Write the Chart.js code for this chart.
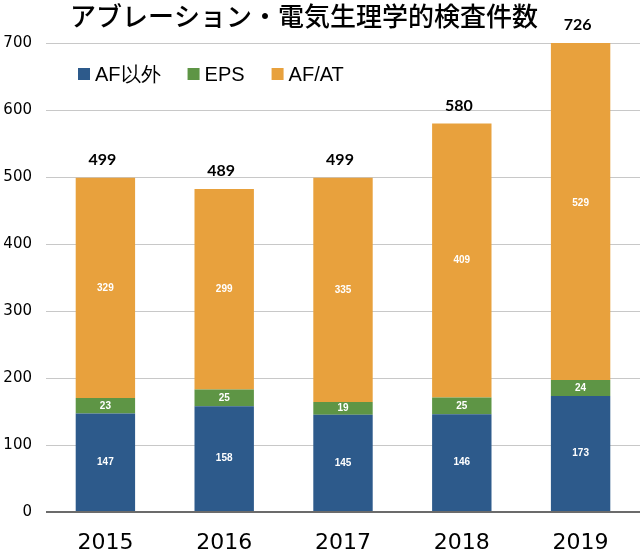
<!DOCTYPE html>
<html>
<head>
<meta charset="utf-8">
<script src="https://cdn.jsdelivr.net/npm/chart.js@4"></script>
<style>
  html, body { margin: 0; padding: 0; background: #fff; }
  #wrap { width: 640px; height: 549px; }
</style>
</head>
<body>
<div id="wrap"><canvas id="kensaChart" width="640" height="549"></canvas></div>
<script>
// ---- data ----
const years = ["2015", "2016", "2017", "2018", "2019"];
const afIgai = [147, 158, 145, 146, 173];
const eps = [23, 25, 19, 25, 24];
const afAt = [329, 299, 335, 409, 529];
const totals = [499, 489, 499, 580, 726];
const yTicks = [0, 100, 200, 300, 400, 500, 600, 700];

const title = "アブレーション・電気生理学的検査件数";

// segment values inside the bars
const segmentLabels = {
    id: "segmentLabels",
    afterDatasetsDraw(chart) {
        const ctx = chart.ctx;
        ctx.save();
        ctx.font = "bold 10px 'Liberation Sans', Arial, sans-serif";
        ctx.fillStyle = "#ffffff";
        ctx.textAlign = "center";
        ctx.textBaseline = "middle";
        chart.data.datasets.forEach((ds, i) => {
            chart.getDatasetMeta(i).data.forEach((bar, j) => {
                ctx.fillText(ds.data[j], bar.x, (bar.y + bar.base) / 2);
            });
        });
        ctx.restore();
    },
};

// totals above each bar
const totalLabels = {
    id: "totalLabels",
    afterDatasetsDraw(chart) {
        const ctx = chart.ctx;
        const last = chart.data.datasets.length - 1;
        const top = chart.chartArea.top;
        ctx.save();
        ctx.font = "bold 16px Lato, 'Open Sans', sans-serif";
        ctx.fillStyle = "#000";
        ctx.textAlign = "center";
        ctx.textBaseline = "middle";
        chart.getDatasetMeta(last).data.forEach((bar, j) => {
            ctx.fillText(totals[j], bar.x - 3, Math.max(bar.y, top) - 18);
        });
        ctx.restore();
    },
};

// title + legend drawn by hand (title is off-centre, legend sits in the plot)
const titleLegend = {
    id: "titleLegend",
    afterDraw(chart) {
        const ctx = chart.ctx;
        ctx.save();
        ctx.fillStyle = "#000";
        ctx.font = "500 26px 'Noto Sans CJK JP', sans-serif";
        ctx.textAlign = "left";
        ctx.textBaseline = "middle";
        ctx.fillText(title, 70, 16);

        ctx.font = "20px 'Liberation Sans', Arial, sans-serif";
        let x = 78;
        chart.data.datasets.forEach((ds) => {
            ctx.fillStyle = ds.backgroundColor;
            ctx.fillRect(x, 68, 12, 12);
            ctx.fillStyle = "#000";
            ctx.fillText(ds.label, x + 17, 75);
            x += 17 + ctx.measureText(ds.label).width + 27;
        });
        ctx.restore();
    },
};

const config = {
    type: "bar",
    data: {
        labels: years,
        datasets: [
            { label: "AF以外", data: afIgai, backgroundColor: "#2D5A8B" },
            { label: "EPS", data: eps, backgroundColor: "#5E9545" },
            { label: "AF/AT", data: afAt, backgroundColor: "#E8A13D" },
        ],
    },
    options: {
        responsive: false,
        animation: false,
        layout: { padding: { top: 43, right: 0, left: 0, bottom: 0 } },
        datasets: {
            bar: { barPercentage: 0.5, categoryPercentage: 1 },
        },
        plugins: {
            legend: { display: false },
            title: { display: false },
            tooltip: { enabled: false },
        },
        scales: {
            x: {
                stacked: true,
                grid: { display: false, drawTicks: false },
                border: { display: false },
                ticks: {
                    color: "#000",
                    padding: 18,
                    font: { family: "'DejaVu Sans'", size: 22 },
                },
                afterFit(scale) { scale.height = 37; },
            },
            y: {
                stacked: true,
                min: 0,
                max: 700,
                afterBuildTicks(scale) {
                    scale.ticks = yTicks.map((v) => ({ value: v }));
                },
                grid: {
                    drawTicks: false,
                    color: (c) => (c.tick && c.tick.value === 0 ? "#6b6b6b" : "#c8c8c8"),
                    lineWidth: (c) => (c.tick && c.tick.value === 0 ? 2 : 1),
                },
                border: { display: false },
                ticks: {
                    color: "#000",
                    padding: 14,
                    font: { family: "'DejaVu Sans'", size: 15 },
                },
                afterFit(scale) { scale.width = 46; },
            },
        },
    },
    plugins: [segmentLabels, totalLabels, titleLegend],
};

const kensaChart = new Chart(document.getElementById("kensaChart"), config);
</script>
</body>
</html>
